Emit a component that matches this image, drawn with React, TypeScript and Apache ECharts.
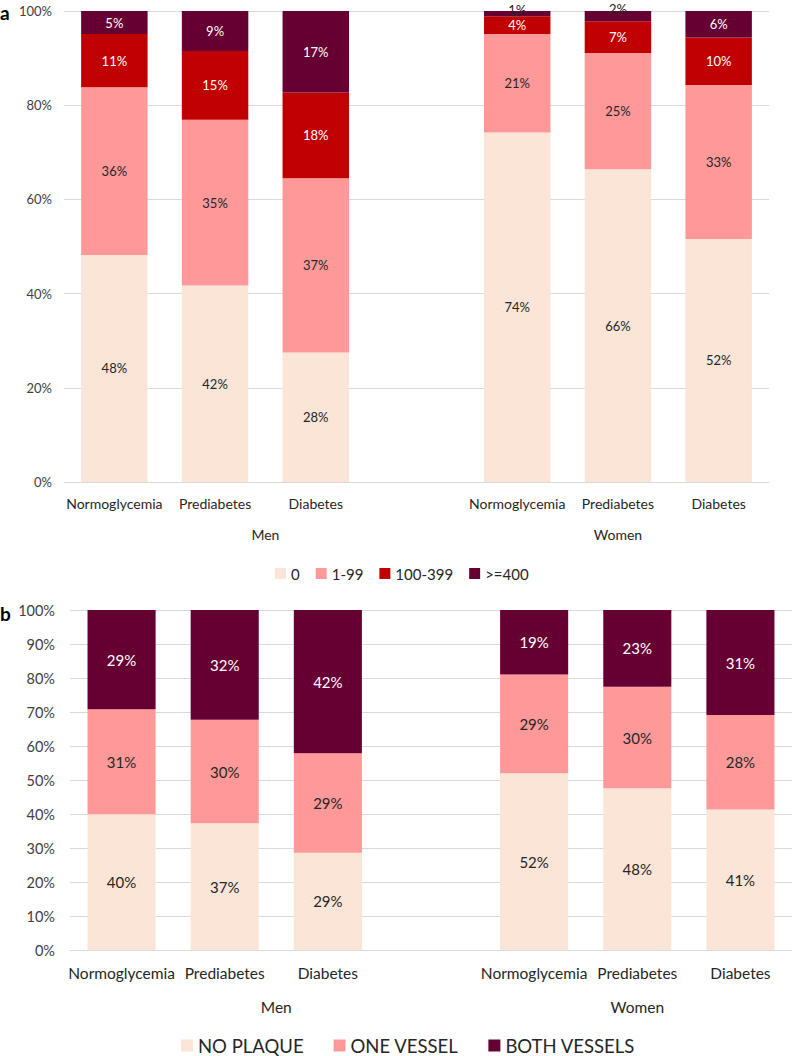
import React, { useEffect, useRef } from "react";
import * as echarts from "echarts";

const categories = ["Normoglycemia", "Prediabetes", "Diabetes", "", "Normoglycemia", "Prediabetes", "Diabetes"];
const groupLabels = ["", "", "", "", "Men", "", "", "", "", "", "", "Women", "", "", ""];

// Panel a: coronary artery calcium score categories (%)
const cacZero = [48.2, 41.7, 27.5, null, 74.2, 66.4, 51.6];
const cac1to99 = [35.6, 35.2, 37.0, null, 20.9, 24.7, 32.7];
const cac100to399 = [11.3, 14.6, 18.2, null, 3.8, 6.7, 10.1];
const cac400plus = [4.9, 8.5, 17.3, null, 1.1, 2.2, 5.6];
const cacNames = ["0", "1-99", "100-399", ">=400"];
const yTicksA = [0, 20, 40, 60, 80, 100];

// Panel b: carotid plaque (%)
const noPlaque = [39.9, 37.3, 28.6, null, 52.0, 47.6, 41.3];
const oneVessel = [30.9, 30.4, 29.3, null, 29.0, 29.8, 27.8];
const bothVessels = [29.2, 32.3, 42.1, null, 19.0, 22.6, 30.9];
const plaqueNames = ["NO PLAQUE", "ONE VESSEL", "BOTH VESSELS"];
const yTicksB = [0, 10, 20, 30, 40, 50, 60, 70, 80, 90, 100];

const COLORS = {
  zero: "#FBE5D6",
  low: "#FF9999",
  mid: "#C00000",
  high: "#660033",
};
const FONT = "Lato, 'Open Sans', sans-serif";

export default function App() {
  const ref = useRef<HTMLDivElement>(null);
  useEffect(() => {
    if (!ref.current) return;
    const chart = echarts.init(ref.current, undefined, { renderer: "svg" });

    const mkSeries = (
      name: string,
      data: (number | null)[],
      color: string,
      labelColor: string,
      xi: number,
      stack: string,
      fontSize: number,
      smallOffset: boolean
    ) => ({
      name,
      type: "bar",
      stack,
      xAxisIndex: xi,
      yAxisIndex: xi,
      barWidth: "66%",
      itemStyle: { color },
      data: data.map((v) => {
        if (v === null) return null;
        if (smallOffset && v < 3) {
          return { value: v, label: { offset: [0, v < 2 ? -4 : -7], color: "#262626" } };
        }
        return v;
      }),
      label: {
        show: true,
        position: "inside",
        color: labelColor,
        fontFamily: FONT,
        fontSize,
        formatter: (p: any) => Math.round(p.value) + "%",
      },
    });

    const yAxisCommon = (max: number, interval: number, fontSize: number, margin: number) => ({
      type: "value",
      min: 0,
      max,
      interval,
      axisLine: { show: false },
      axisTick: { show: false },
      splitLine: { lineStyle: { color: "#D9D9D9", width: 1 } },
      axisLabel: {
        formatter: (v: number) => v + "%",
        fontFamily: FONT,
        fontSize,
        color: "#404040",
        margin,
      },
    });

    const option: any = {
      animation: false,
      grid: [
        { left: 64, top: 11, width: 705, height: 471 },
        { left: 70, top: 610, width: 724, height: 340 },
      ],
      xAxis: [
        {
          type: "category",
          gridIndex: 0,
          data: categories,
          axisLine: { lineStyle: { color: "#D9D9D9" } },
          axisTick: { show: false },
          axisLabel: { interval: 0, fontFamily: FONT, fontSize: 14, color: "#262626", margin: 14 },
        },
        {
          type: "category",
          gridIndex: 1,
          data: categories,
          axisLine: { lineStyle: { color: "#D9D9D9" } },
          axisTick: { show: false },
          axisLabel: { interval: 0, fontFamily: FONT, fontSize: 15.5, color: "#262626", margin: 15 },
        },
        {
          type: "category",
          gridIndex: 0,
          position: "bottom",
          offset: 45,
          boundaryGap: false,
          data: groupLabels,
          axisLine: { show: false },
          axisTick: { show: false },
          axisLabel: { interval: 0, fontFamily: FONT, fontSize: 14, color: "#262626", margin: 0 },
        },
        {
          type: "category",
          gridIndex: 1,
          position: "bottom",
          offset: 49,
          boundaryGap: false,
          data: groupLabels,
          axisLine: { show: false },
          axisTick: { show: false },
          axisLabel: { interval: 0, fontFamily: FONT, fontSize: 15.5, color: "#262626", margin: 0 },
        },
      ],
      yAxis: [
        { ...yAxisCommon(yTicksA[yTicksA.length - 1], yTicksA[1] - yTicksA[0], 13, 12), gridIndex: 0 },
        { ...yAxisCommon(yTicksB[yTicksB.length - 1], yTicksB[1] - yTicksB[0], 14.5, 15), gridIndex: 1 },
      ],
      legend: [
        {
          data: cacNames,
          top: 561,
          left: 270,
          itemWidth: 11,
          itemHeight: 11,
          itemGap: 16,
          icon: "rect",
          textStyle: { fontFamily: FONT, fontSize: 15, color: "#262626" },
        },
        {
          data: plaqueNames,
          top: 1031,
          left: 176,
          itemWidth: 12,
          itemHeight: 12,
          itemGap: 30,
          icon: "rect",
          textStyle: { fontFamily: FONT, fontSize: 18.5, color: "#262626" },
        },
      ],
      graphic: [
        { type: "text", left: 0, top: 3, style: { text: "a", fontFamily: FONT, fontSize: 19, fontWeight: "bold", fill: "#000" } },
        { type: "text", left: 0, top: 604, style: { text: "b", fontFamily: FONT, fontSize: 19, fontWeight: "bold", fill: "#000" } },
      ],
      series: [
        mkSeries(cacNames[0], cacZero, COLORS.zero, "#262626", 0, "a", 13, false),
        mkSeries(cacNames[1], cac1to99, COLORS.low, "#262626", 0, "a", 13, false),
        mkSeries(cacNames[2], cac100to399, COLORS.mid, "#FFFFFF", 0, "a", 13, false),
        mkSeries(cacNames[3], cac400plus, COLORS.high, "#FFFFFF", 0, "a", 13, true),
        mkSeries(plaqueNames[0], noPlaque, COLORS.zero, "#262626", 1, "b", 15, false),
        mkSeries(plaqueNames[1], oneVessel, COLORS.low, "#262626", 1, "b", 15, false),
        mkSeries(plaqueNames[2], bothVessels, COLORS.high, "#FFFFFF", 1, "b", 15, false),
      ],
    };
    chart.setOption(option);
    return () => chart.dispose();
  }, []);

  return (
    <div
      ref={ref}
      style={{ position: "fixed", left: 0, top: 0, width: 795, height: 1056, background: "#fff" }}
    />
  );
}
